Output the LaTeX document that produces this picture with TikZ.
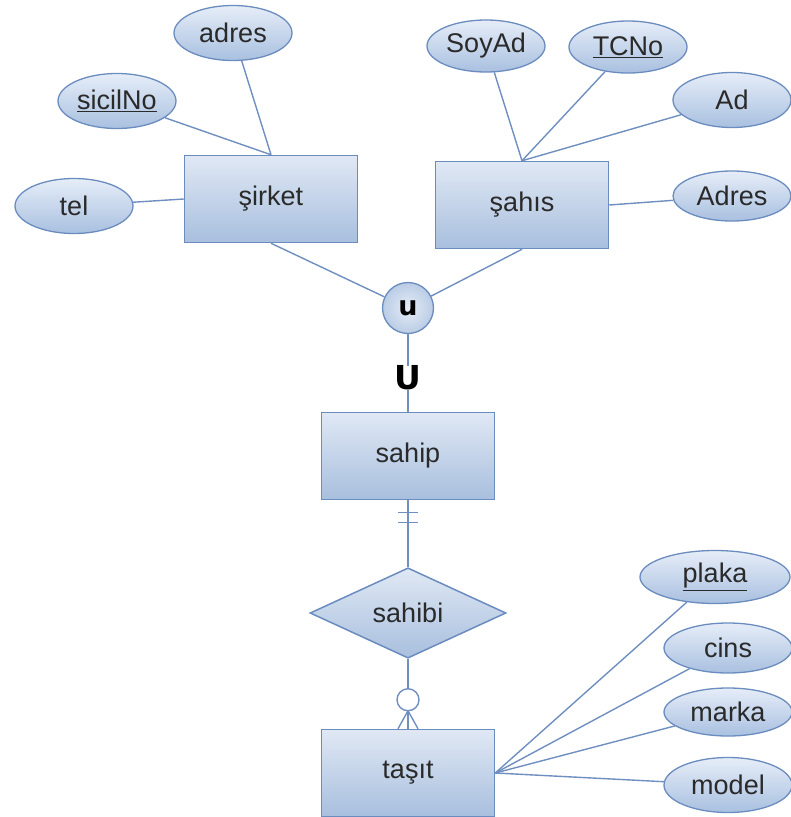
\documentclass[tikz,border=0pt]{standalone}
\usepackage{fontspec}
\setmainfont{Liberation Sans}
\newfontfamily\heavyfont{DejaVu Sans}
\usetikzlibrary{%
	calc,%
	shapes.geometric%
}
\definecolor{erline}{HTML}{6F8FC0}
\definecolor{erborder}{HTML}{6A8CBE}
\definecolor{ertext}{HTML}{2A2A2A}
\definecolor{boxtop}{HTML}{E0E8F4}
\definecolor{boxbot}{HTML}{A8BFDE}
\definecolor{elltop}{HTML}{E6EDF8}
\definecolor{ellbot}{HTML}{A9C0E0}

\begin{document}
\begin{tikzpicture}[x=1pt,y=-1pt,
	entity/.style={draw=erborder,line width=1.5pt,top color=boxtop,bottom color=boxbot,
		minimum width=173pt,minimum height=87pt,inner sep=0pt,text=ertext,
		font=\fontsize{27}{30}\selectfont},
	attr/.style={ellipse,draw=erborder,line width=1.3pt,top color=elltop,bottom color=ellbot,
		minimum width=118pt,minimum height=55pt,inner sep=0pt,text=ertext,
		font=\fontsize{27}{30}\selectfont},
	rel/.style={diamond,draw=erborder,line width=1.5pt,top color=boxtop,bottom color=boxbot,
		minimum width=196pt,minimum height=84pt,inner sep=0pt,text=ertext,
		font=\fontsize{27}{30}\selectfont},
	link/.style={draw=erline,line width=1.4pt}]
	\useasboundingbox (0,0) rectangle (791,817);
	
	% Entities
	\node[entity] (sirket) at (271,199) {şirket};
	\node[entity] (sahis) at (522,205) {şahıs};
	\node[entity] (sahip) at (408,456) {sahip};
	\node[entity] (tasit) at (408,773) {taşıt};
	
	% Relationship and union
	\node[rel] (sahibi) at (408,613) {sahibi};
	\node[circle,draw=erborder,line width=1.3pt,shading=radial,inner color=elltop,outer color=boxbot!80,
		minimum size=51pt,inner sep=0pt,font=\heavyfont\bfseries\fontsize{27}{27}\selectfont] (union) at (408,308) {u};
	
	% Attributes
	\node[attr] (s-adres) at (233,33) {adres};
	\node[attr] (s-sicil) at (117,101) {\underline{sicilNo}};
	\node[attr] (s-tel) at (74,206) {tel};
	\node[attr,minimum height=52pt] (p-soyad) at (486,46) {SoyAd};
	\node[attr,minimum height=52pt] (p-tcno) at (628,47) {\underline{TCNo}};
	\node[attr] (p-ad) at (732,100) {Ad};
	\node[attr,minimum height=50pt] (p-adres) at (732,196) {Adres};
	\node[attr,minimum width=150pt,minimum height=53pt] (t-plaka) at (715,577) {\underline{plaka}};
	\node[attr,minimum width=128pt,minimum height=50pt] (t-cins) at (728,648) {cins};
	\node[attr,minimum width=128pt,minimum height=48pt] (t-marka) at (728,712) {marka};
	\node[attr,minimum width=128pt,minimum height=55pt] (t-model) at (728,785) {model};
	
	% Attribute edges
	\foreach \a in {s-adres,s-sicil}
	\draw[link] (sirket.north) -- (\a);
	\draw[link] (sirket.west) -- (s-tel);
	\foreach \a in {p-soyad,p-tcno,p-ad}
	\draw[link] (sahis.north) -- (\a);
	\draw[link] (sahis.east) -- (p-adres);
	\foreach \a in {t-plaka,t-cins,t-marka,t-model}
	\draw[link] (tasit.east) -- (\a);
	
	% Union edges
	\draw[link] (sirket.south) -- (union);
	\draw[link] (sahis.south) -- (union);
	\draw[link] (union.south) -- (sahip.north);
	\node[fill=white,inner sep=0pt,font=\heavyfont\bfseries\fontsize{33}{33}\selectfont] (subset) at (408,378) {U};
	
	% Relationship edges
	\draw[link] (sahip.south) -- (sahibi.north);
	\draw[link] ($(sahip.south)+(-10,12)$) -- ++(20,0);
	\draw[link] ($(sahip.south)+(-10,22)$) -- ++(20,0);
	\draw[link] (sahibi.south) -- (tasit.north);
	\draw[link] ($(tasit.north)+(-10,0)$) -- ($(tasit.north)+(0,-18)$) -- ($(tasit.north)+(10,0)$);
	\draw[link,fill=white] ($(tasit.north)+(0,-29)$) circle (11pt);
\end{tikzpicture}
\end{document}
